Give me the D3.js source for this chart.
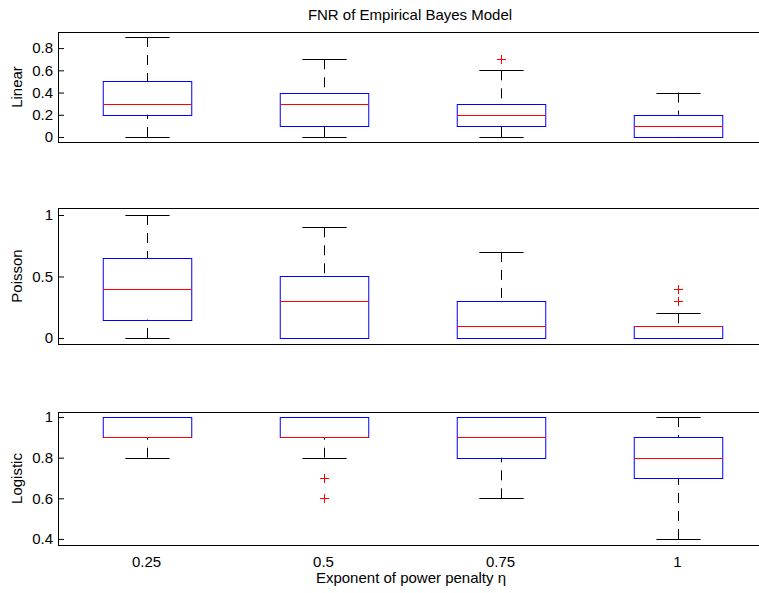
<!DOCTYPE html>
<html>
<head>
<meta charset="utf-8">
<script src="https://cdn.jsdelivr.net/npm/d3@7"></script>
<style>
  body { margin: 0; background: #fff; }
  svg text { font-family: "Liberation Sans", Arial, sans-serif; fill: #000; }
</style>
</head>
<body>
<div id="chart"></div>
<script>
// categories and labels
var categories = ["0.25", "0.5", "0.75", "1"];
var panelNames = ["Linear", "Poisson", "Logistic"];

// box stats per category: [lower whisker, q1, median, q3, upper whisker]
var linearStats   = [[0, 0.2, 0.3, 0.5, 0.9], [0, 0.1, 0.3, 0.4, 0.7], [0, 0.1, 0.2, 0.3, 0.6], [0, 0, 0.1, 0.2, 0.4]];
var poissonStats  = [[0, 0.15, 0.4, 0.65, 1], [0, 0, 0.3, 0.5, 0.9], [0, 0, 0.1, 0.3, 0.7], [0, 0, 0.1, 0.1, 0.2]];
var logisticStats = [[0.8, 0.9, 0.9, 1, 1], [0.8, 0.9, 0.9, 1, 1], [0.6, 0.8, 0.9, 1, 1], [0.4, 0.7, 0.8, 0.9, 1]];

// outliers per category
var linearOut   = [[], [], [0.7], []];
var poissonOut  = [[], [], [], [0.3, 0.4]];
var logisticOut = [[], [0.7, 0.6], [], []];

// y ticks and domains
var linearTicks   = [0, 0.2, 0.4, 0.6, 0.8];
var poissonTicks  = [0, 0.5, 1];
var logisticTicks = [0.4, 0.6, 0.8, 1];
var linearDomain   = [-0.045, 0.945];
var poissonDomain  = [-0.049, 1.057];
var logisticDomain = [0.37, 1.025];

var W = 759, H = 593;
var left = 58, right = 766;
var panelBox = [[32, 142], [208, 344], [412, 545]]; // top, bottom
var fs = '15px';

var svg = d3.select('#chart').append('svg').attr('width', W).attr('height', H);

var x = d3.scaleBand().domain(categories).range([left, right]).padding(0);
var boxW = x.bandwidth() / 2, capW = x.bandwidth() / 4;

var panels = [
  {name: panelNames[0], stats: linearStats, out: linearOut, ticks: linearTicks, dom: linearDomain},
  {name: panelNames[1], stats: poissonStats, out: poissonOut, ticks: poissonTicks, dom: poissonDomain},
  {name: panelNames[2], stats: logisticStats, out: logisticOut, ticks: logisticTicks, dom: logisticDomain}
];

panels.forEach(function(p, pi) {
  var top = panelBox[pi][0], bot = panelBox[pi][1];
  var y = d3.scaleLinear().domain(p.dom).range([bot, top]);
  var g = svg.append('g');

  // left axis, ticks inward
  var ax = g.append('g').attr('transform', 'translate(' + left + ',0)')
    .call(d3.axisLeft(y).tickValues(p.ticks).tickSize(-6).tickPadding(5).tickFormat(d3.format('')));
  ax.select('.domain').remove();
  ax.selectAll('text').style('font-size', fs);
  ax.selectAll('line').attr('stroke', '#000');

  // right ticks inward
  var axr = g.append('g').attr('transform', 'translate(' + right + ',0)')
    .call(d3.axisRight(y).tickValues(p.ticks).tickSize(-6).tickFormat(''));
  axr.select('.domain').remove();

  // frame
  g.append('rect').attr('x', left + 0.5).attr('y', top + 0.5)
    .attr('width', right - left).attr('height', bot - top)
    .attr('fill', 'none').attr('stroke', '#000').attr('stroke-width', 1);

  p.stats.forEach(function(s, i) {
    var cx = Math.round(x(categories[i]) + x.bandwidth() / 2) + 0.5;
    // whiskers, dashed from the cap toward the box
    g.append('line').attr('x1', cx).attr('x2', cx).attr('y1', y(s[4])).attr('y2', y(s[3]))
      .attr('stroke', '#000').attr('stroke-dasharray', '10,8');
    g.append('line').attr('x1', cx).attr('x2', cx).attr('y1', y(s[0])).attr('y2', y(s[1]))
      .attr('stroke', '#000').attr('stroke-dasharray', '10,8');
    // caps
    [s[0], s[4]].forEach(function(v) {
      g.append('line').attr('x1', cx - capW / 2).attr('x2', cx + capW / 2)
        .attr('y1', Math.round(y(v)) + 0.5).attr('y2', Math.round(y(v)) + 0.5).attr('stroke', '#000');
    });
    // box
    g.append('rect').attr('x', cx - boxW / 2).attr('y', Math.round(y(s[3])) + 0.5)
      .attr('width', boxW).attr('height', Math.round(y(s[1])) - Math.round(y(s[3])))
      .attr('fill', 'none').attr('stroke', '#0000ff');
    // median
    g.append('line').attr('x1', cx - boxW / 2).attr('x2', cx + boxW / 2)
      .attr('y1', Math.round(y(s[2])) + 0.5).attr('y2', Math.round(y(s[2])) + 0.5).attr('stroke', '#ff0000');
    // outliers
    p.out[i].forEach(function(v) {
      var oy = Math.round(y(v)) + 0.5;
      g.append('path').attr('d', 'M' + (cx - 4.5) + ',' + oy + 'H' + (cx + 4.5) + 'M' + cx + ',' + (oy - 4.5) + 'V' + (oy + 4.5))
        .attr('stroke', '#ff0000').attr('stroke-width', 1).attr('fill', 'none');
    });
  });

  // y label
  g.append('text').attr('transform', 'translate(22,' + ((top + bot) / 2) + ') rotate(-90)')
    .attr('text-anchor', 'middle').style('font-size', fs).text(p.name);

  // x tick labels on bottom panel
  if (pi === panels.length - 1) {
    categories.forEach(function(c) {
      g.append('text').attr('x', x(c) + x.bandwidth() / 2).attr('y', bot + 22)
        .attr('text-anchor', 'middle').style('font-size', fs).text(c);
    });
  }
});

svg.append('text').attr('x', 410).attr('y', 20).attr('text-anchor', 'middle')
  .style('font-size', fs).text('FNR of Empirical Bayes Model');
svg.append('text').attr('x', 411).attr('y', 583).attr('text-anchor', 'middle')
  .style('font-size', fs).text('Exponent of power penalty η');
</script>
</body>
</html>
